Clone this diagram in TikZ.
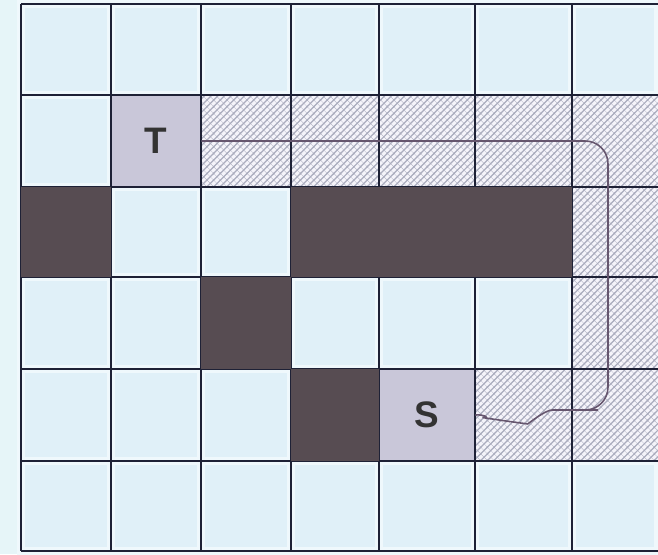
\documentclass[tikz,border=0pt]{standalone}
\usepackage{fontspec}
\setmainfont{Liberation Sans}
\usepackage{tikz}
\usetikzlibrary{patterns.meta}
\usepackage{xcolor}

\definecolor{marginblue}{HTML}{E6F5F8}
\definecolor{cellrim}{HTML}{EFF8FC}
\definecolor{cellblue}{HTML}{E0F0F8}
\definecolor{wallgray}{HTML}{574C52}
\definecolor{endlilac}{HTML}{C9C7D9}
\definecolor{gridnavy}{HTML}{1E2136}
\definecolor{hatchgray}{HTML}{ABADBE}
\definecolor{hatchbg}{HTML}{F5F4FA}
\definecolor{routepurple}{HTML}{66566E}

% column / row edges in screen px
\def\colx{{21,111,201,291,379,475,572,658}}
\def\rowy{{4,95,187,277,369,461,551}}

% one grid cell (column, row, style)
\newcommand{\fillcell}[3]{%
  \pgfmathsetmacro\xa{\colx[#1]}\pgfmathsetmacro\xb{\colx[#1+1]}%
  \pgfmathsetmacro\ya{\rowy[#2]}\pgfmathsetmacro\yb{\rowy[#2+1]}%
  \path[#3] (\xa,\ya) rectangle (\xb,\yb);}

\tikzdeclarepattern{
  name=visited,
  type=uncolored,
  bottom left={(-.5pt,-.5pt)},
  top right={(4.3pt,4.3pt)},
  tile size={(3.8pt,3.8pt)},
  code={
    \draw[line width=0.7pt] (-.5pt,-.5pt) -- (4.3pt,4.3pt);
    \draw[line width=0.15pt] (0pt,3.8pt) -- (3.8pt,0pt);
  }
}

\tikzset{
  plaincell/.style={fill=cellblue, draw=cellrim, line width=5pt},
  wallcell/.style={fill=wallgray},
  visitedcell/.style={fill=hatchbg, postaction={pattern=visited, pattern color=hatchgray}},
  endcell/.style={fill=endlilac, inner sep=0pt, minimum height=1.84cm,
    font=\fontsize{21}{24}\selectfont\bfseries, text=black!80},
  gridline/.style={gridnavy, line width=1.1pt},
  route/.style={routepurple, line width=0.9pt, rounded corners=13pt}
}

\begin{document}
\begin{tikzpicture}[x=0.02cm,y=-0.02cm]
    \useasboundingbox (0,0) rectangle (658,554);
    \fill[marginblue] (0,0) rectangle (658,554);
    % Plain cells first, then walls and the searched cells on top
    \foreach \c in {0,...,6}
      \foreach \r in {0,...,5}
        {\fillcell{\c}{\r}{plaincell}}
    \foreach \c/\r in {2/1,3/1,4/1,5/1,6/1,6/2,6/3,5/4,6/4}
      {\fillcell{\c}{\r}{visitedcell}}
    % Target and start
    \node[endcell, minimum width=1.8cm] (T) at (156,141) {T};
    \node[endcell, minimum width=1.92cm] (S) at (427,415) {S};
    % Grid lines (right edge is cut off in the photo)
    \foreach \c in {0,...,6}
      {\pgfmathsetmacro\xa{\colx[\c]}
       \draw[gridline] (\xa,4) -- (\xa,551);}
    \foreach \r in {0,...,6}
      {\pgfmathsetmacro\ya{\rowy[\r]}
       \draw[gridline] (21,\ya) -- (658,\ya);}
    % Walls over the lines, so the long one reads as one block
    \foreach \c/\r in {0/2,3/2,4/2,5/2,2/3,3/4}
      {\fillcell{\c}{\r}{wallcell}}
    % Path found from S back to T
    \draw[route] (T.east) -- (608,141) -- (608,410) -- (575,410)
      .. controls (545,410) and (528,424) .. (505,421)
      .. controls (492,419) and (484,414) .. (S.east);
\end{tikzpicture}
\end{document}
